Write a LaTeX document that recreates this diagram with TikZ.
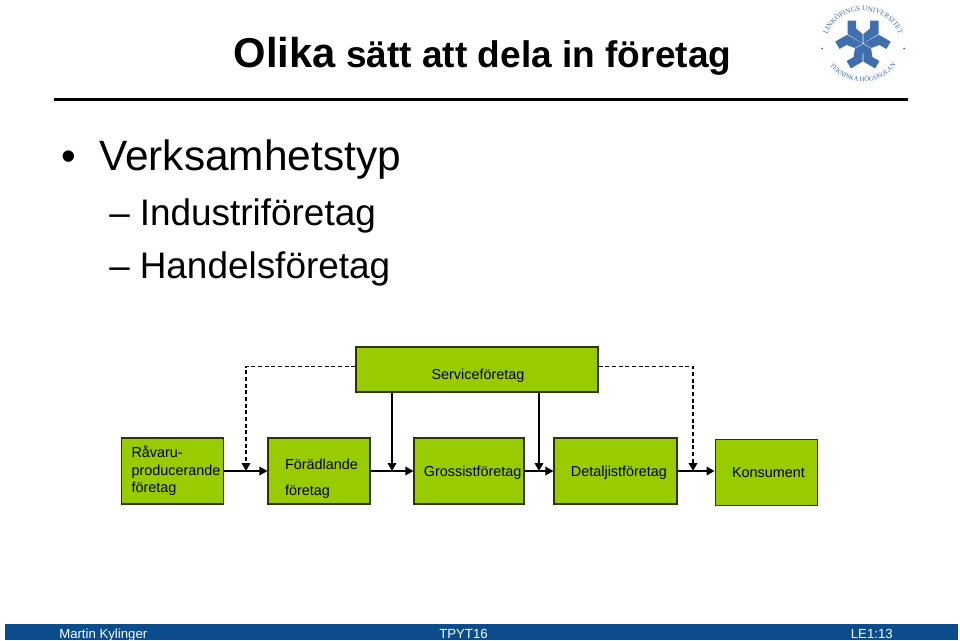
\documentclass[tikz,border=0pt]{standalone}
\usepackage{fontspec}
\setmainfont{Liberation Sans}
\newfontfamily\sealfont{Liberation Serif}
\usepackage{xcolor}
\usetikzlibrary{arrows.meta, decorations.text}

\definecolor{firmgreen}{HTML}{99CC00}
\definecolor{firmedge}{HTML}{333300}
\definecolor{footerblue}{HTML}{0B4C8C}
\definecolor{sealblue}{HTML}{3F6FAE}

\newcommand{\fsz}[1]{\fontsize{#1}{#1}\selectfont}

\tikzset{
    firmbox/.style={draw=firmedge, fill=firmgreen, line width=0.9pt, inner sep=0pt,
        align=left, font=\fontsize{10.8}{13}\selectfont},
    headtext/.style={anchor=base west, inner sep=0pt},
    footertext/.style={inner sep=0pt, text=white, font=\fsz{9.9}},
    flow/.style={->, line width=1pt, black}
}

\begin{document}
\begin{tikzpicture}[>={Triangle[length=6pt, width=6.5pt]}, x=0.75pt, y=-0.75pt]

    \useasboundingbox (0,0) rectangle (960,640);

    % =================================================================
    % 1. TITLE AND LOGO
    % =================================================================
    \node[headtext, font=\bfseries\fsz{27.8}] (title) at (233.5,67)
        {{\fsz{31.3}Olika} sätt att dela in företag};
    \fill[black] (54,97.5) rectangle (908,100.5);

    % Seal: three forked arms, each made of two mirrored pieces
    \begin{scope}[shift={(863,43.5)}, y=0.75pt]
        \foreach \ang in {0,120,240} {
            \foreach \side in {1,-1} {
                \fill[sealblue, rotate=\ang, xscale=\side]
                    (0.3,0.6) -- (0.3,9.5) -- (7,15) -- (7,23) -- (15.5,23)
                    -- (15.5,9.4) -- (0.7,0.5) -- cycle;
            }
        }
        \path[decorate, decoration={text along path, text align=center,
            text={|\fsz{5.4}\sealfont\color{sealblue}|LINKÖPINGS UNIVERSITET}}]
            (-36.4,-5.6) arc[start angle=190, end angle=-10, x radius=37, y radius=32.5];
        \path[decorate, decoration={text along path, text align=center,
            text={|\fsz{5}\sealfont\color{sealblue}|TEKNISKA HÖGSKOLAN}}]
            (-37.6,-13) arc[start angle=200, end angle=340, x radius=40, y radius=38];
        \fill[sealblue] (-41,-5) circle (1) (41,-5) circle (1);
    \end{scope}

    % =================================================================
    % 2. BULLET LIST
    % =================================================================
    \node[headtext, font=\fsz{31.5}] (bulletmark) at (61,170) {•};
    \node[headtext, font=\fsz{31.8}] (verksamhet) at (99,170) {Verksamhetstyp};
    \node[headtext, font=\fsz{27.6}] (dashone) at (109,225) {–};
    \node[headtext, font=\fsz{27.7}] (industri) at (139.5,225) {Industriföretag};
    \node[headtext, font=\fsz{27.6}] (dashtwo) at (109,278) {–};
    \node[headtext, font=\fsz{27.7}] (handel) at (139.5,278) {Handelsföretag};

    % =================================================================
    % 3. BOXES OF THE CHAIN
    % =================================================================
    \node[firmbox, minimum width=181.5pt, minimum height=33.75pt] (service) at (477,369.5)
        {\rule{0pt}{16.5pt}\hspace*{1.5pt}Serviceföretag};

    \node[firmbox, minimum width=77pt, minimum height=49.5pt] (ravaru) at (172.5,471)
        {\hspace*{5.2pt}Råvaru-\\\hspace*{5.2pt}producerande\\\hspace*{5.2pt}företag};
    \node[firmbox, minimum width=76.5pt, minimum height=49.5pt] (foradling) at (319,471)
        {\rule{0pt}{20pt}\hspace*{3.75pt}Förädlande\\[6.5pt]\hspace*{3.75pt}företag};
    \node[firmbox, minimum width=82.5pt, minimum height=49.5pt] (grossist) at (469,471)
        {\rule{0pt}{10pt}\hspace*{5.5pt}Grossistföretag};
    \node[firmbox, minimum width=92.25pt, minimum height=49.5pt] (detalj) at (615.5,471)
        {\rule{0pt}{11pt}\hspace*{5.2pt}Detaljistföretag};
    \node[firmbox, minimum width=77pt, minimum height=49pt] (konsument) at (766.5,472.5)
        {\hspace*{3pt}Konsument};

    % =================================================================
    % 4. CONNECTORS
    % =================================================================
    \coordinate (tapravaru) at (246,471);
    \coordinate (tapgrossist) at (392,471);
    \coordinate (tapdetalj) at (539,471);
    \coordinate (tapkonsument) at (693,471);

    \draw[flow] (ravaru) -- (foradling);
    \draw[flow] (foradling) -- (grossist);
    \draw[flow] (grossist) -- (detalj);
    \draw[flow] (detalj.east) -- (detalj.east -| konsument.west);

    \draw[flow] (service.south -| tapgrossist) -- (tapgrossist);
    \draw[flow] (service.south -| tapdetalj) -- (tapdetalj);
    \draw[flow, dash pattern=on 3pt off 2pt] (service.west |- 0,366.5) -| (tapravaru);
    \draw[flow, dash pattern=on 3pt off 2pt] (service.east |- 0,366.5) -| (tapkonsument);

    % =================================================================
    % 5. FOOTER
    % =================================================================
    \fill[footerblue] (5,624) rectangle (958,640);
    \node[footertext, anchor=base west] (author) at (59,638) {Martin Kylinger};
    \node[footertext, anchor=base] (course) at (463.5,638) {TPYT16};
    \node[footertext, anchor=base east] (slide) at (893,638) {LE1:13};

\end{tikzpicture}
\end{document}
